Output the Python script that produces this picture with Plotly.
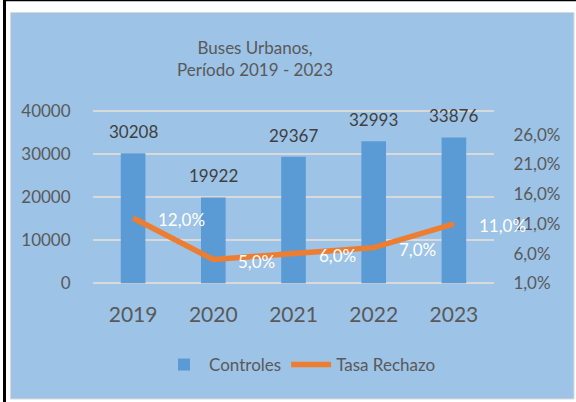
import plotly.graph_objects as go

years = ["2019", "2020", "2021", "2022", "2023"]
controles = [30208, 19922, 29367, 32993, 33876]
tasa_rechazo = [12.0, 5.0, 6.0, 7.0, 11.0]

FONT = "Lato"
GREY = "#595959"
DARK = "#404040"
BAR_COLOR = "#5B9BD5"
LINE_COLOR = "#ED7D31"
BG_BLUE = "#9DC3E6"

W, H = 576, 402
ML, MR, MT, MB = 93, 82, 109, 117
PW, PH = W - ML - MR, H - MT - MB

# pixel rows where the primary axis' 0 and 40000 gridlines sit
Y0_PX, YTOP_PX = 283.3, 111.0
Y1_PER_PX = 40000 / (Y0_PX - YTOP_PX)
Y1_RANGE = [-(H - MB - Y0_PX) * Y1_PER_PX, 40000 + (YTOP_PX - MT) * Y1_PER_PX]
Y2_PER_PX = 29.0 / (Y0_PX - YTOP_PX)
Y2_RANGE = [1 - (H - MB - Y0_PX) * Y2_PER_PX, 30 + (YTOP_PX - MT) * Y2_PER_PX]


def px_x(px):
    return (px - ML) / PW


def px_y(py):
    return (H - MB - py) / PH


fig = go.Figure()
fig.add_trace(go.Bar(
    x=years, y=controles, name="Controles",
    marker=dict(color=BAR_COLOR, line=dict(width=0)),
    yaxis="y",
))
fig.add_trace(go.Scatter(
    x=years, y=tasa_rechazo, name="Tasa Rechazo", mode="lines",
    line=dict(color=LINE_COLOR, width=5.5),
    yaxis="y2",
))

annotations = []
for i, v in enumerate(controles):
    annotations.append(dict(
        x=i, y=v, xref="x", yref="y", text=str(v), showarrow=False,
        yanchor="middle", yshift=21.5, font=dict(family=FONT, size=17, color=DARK),
    ))
for i, v in enumerate(tasa_rechazo):
    annotations.append(dict(
        x=i, y=v, xref="x", yref="y2", text=f"{v:.1f}%".replace(".", ","),
        showarrow=False, xanchor="left", yanchor="middle", xshift=23, yshift=-2,
        font=dict(family=FONT, size=17, color="white"),
    ))
annotations.append(dict(
    x=px_x(255), y=px_y(59), xref="paper", yref="paper",
    text="Buses Urbanos,<br>Período 2019 - 2023", showarrow=False,
    xanchor="center", yanchor="middle",
    font=dict(family=FONT, size=17, color=GREY),
))

shapes = [
    dict(type="rect", xref="paper", yref="paper",
         x0=px_x(10.5), x1=px_x(574), y0=px_y(399), y1=px_y(12.5),
         fillcolor=BG_BLUE, line=dict(color="#D9D9D9", width=1), layer="below"),
    dict(type="line", xref="paper", yref="paper",
         x0=px_x(4.5), x1=px_x(4.5), y0=px_y(402), y1=px_y(0),
         line=dict(color="black", width=3), layer="below"),
    dict(type="line", xref="paper", yref="paper",
         x0=px_x(3), x1=px_x(576), y0=px_y(0.5), y1=px_y(0.5),
         line=dict(color="black", width=1.5), layer="below"),
]

fig.update_layout(
    width=W, height=H,
    margin=dict(l=ML, r=MR, t=MT, b=MB, pad=0),
    paper_bgcolor="white", plot_bgcolor="rgba(0,0,0,0)",
    font=dict(family=FONT, size=17, color=GREY),
    separators=",.",
    bargap=0.693,
    showlegend=True,
    legend=dict(orientation="h", x=px_x(300), xanchor="center", y=px_y(365), yanchor="middle",
                bgcolor="rgba(0,0,0,0)", font=dict(family=FONT, size=17, color=GREY),
                itemwidth=40, traceorder="normal"),
    xaxis=dict(type="category", range=[-0.5, len(years) - 0.5], showgrid=False, zeroline=False,
               showline=False, ticks="outside", ticklen=11, tickcolor="rgba(0,0,0,0)",
               tickfont=dict(family=FONT, size=21, color=GREY)),
    yaxis=dict(range=Y1_RANGE, tickmode="linear", tick0=0, dtick=10000, tickformat="d",
               showgrid=True, gridcolor="#D9D9D9", gridwidth=1.5, zeroline=False, showline=False,
               ticks="outside", ticklen=18, tickcolor="rgba(0,0,0,0)",
               tickfont=dict(family=FONT, size=17, color=GREY)),
    yaxis2=dict(overlaying="y", side="right", range=Y2_RANGE,
                tickmode="linear", tick0=1, dtick=5,
                tickformat=".1f", ticksuffix="%", showgrid=False, zeroline=False, showline=False,
                ticks="outside", ticklen=15, tickcolor="rgba(0,0,0,0)",
                tickfont=dict(family=FONT, size=17, color=GREY)),
    annotations=annotations,
    shapes=shapes,
)

fig.write_html("out.html", config={"displayModeBar": False},
               post_script="document.body.style.margin='0';")
